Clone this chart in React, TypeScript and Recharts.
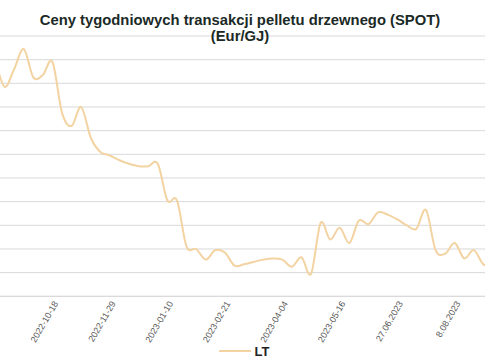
import { CartesianGrid, Legend, Line, LineChart, XAxis, YAxis } from 'recharts'

// weekly SPOT quotes, labels as they appear in the source sheet
const weeks = [
  '2022-09-06', '2022-09-13', '2022-09-20', '2022-09-27', '2022-10-04', '2022-10-11',
  '2022-10-18', '2022-10-25', '2022-11-01', '2022-11-08', '2022-11-15', '2022-11-22',
  '2022-11-29', '2022-12-06', '2022-12-13', '2022-12-20', '2022-12-27', '2023-01-03',
  '2023-01-10', '2023-01-17', '2023-01-24', '2023-01-31', '2023-02-07', '2023-02-14',
  '2023-02-21', '2023-02-28', '2023-03-07', '2023-03-14', '2023-03-21', '2023-03-28',
  '2023-04-04', '2023-04-11', '2023-04-18', '2023-04-25', '2023-05-02', '2023-05-09',
  '2023-05-16', '2023-05-23', '2023-05-30', '6.06.2023', '13.06.2023', '20.06.2023',
  '27.06.2023', '4.07.2023', '11.07.2023', '18.07.2023', '25.07.2023', '1.08.2023',
  '8.08.2023', '15.08.2023', '22.08.2023', '29.08.2023', '5.09.2023',
]

const lt = [
  28.0, 25.7, 27.2, 28.9, 26.5, 26.7, 27.8, 23.5, 22.4, 24.0, 21.4, 20.2,
  19.9, 19.5, 19.2, 19.0, 19.0, 19.2, 16.1, 16.1, 12.2, 12.0, 11.1, 11.9,
  11.7, 10.6, 10.7, 10.9, 11.1, 11.2, 11.1, 10.5, 11.3, 9.9, 14.2, 12.8,
  13.8, 12.5, 14.4, 14.1, 15.1, 14.9, 14.5, 14.0, 13.7, 15.3, 11.9, 11.6,
  12.5, 11.2, 11.9, 10.7, 10.6,
]

const shownWeeks = [
  '2022-10-18', '2022-11-29', '2023-01-10', '2023-02-21',
  '2023-04-04', '2023-05-16', '27.06.2023', '8.08.2023',
]

const yTicks = [8, 10, 12, 14, 16, 18, 20, 22, 24, 26, 28, 30]

const data = weeks.map((week, i) => ({ week, LT: lt[i] }))

// Excel-style smoothed line (bezier through every point, control arms = 1/6 of neighbour span)
const excelSmooth = (context: any) => {
  let pts: [number, number][] = []
  return {
    areaStart() {},
    areaEnd() {},
    lineStart() {
      pts = []
    },
    lineEnd() {
      const n = pts.length
      if (!n) return
      context.moveTo(pts[0][0], pts[0][1])
      for (let i = 0; i < n - 1; i++) {
        const p0 = pts[Math.max(i - 1, 0)]
        const p1 = pts[i]
        const p2 = pts[i + 1]
        const p3 = pts[Math.min(i + 2, n - 1)]
        context.bezierCurveTo(
          p1[0] + (p2[0] - p0[0]) / 6,
          p1[1] + (p2[1] - p0[1]) / 6,
          p2[0] - (p3[0] - p1[0]) / 6,
          p2[1] - (p3[1] - p1[1]) / 6,
          p2[0],
          p2[1],
        )
      }
    },
    point(x: number, y: number) {
      pts.push([+x, +y])
    },
  }
}

function DateTick({ x, y, payload }: any) {
  return (
    <text
      transform={`translate(${x + 6},${y + 7}) rotate(-60)`}
      textAnchor="end"
      fontSize={9}
      fill="#595959"
    >
      {payload.value}
    </text>
  )
}

function LegendBox() {
  return (
    <div style={{ display: 'flex', justifyContent: 'center', alignItems: 'center', height: 18 }}>
      <svg width={32} height={4} style={{ marginRight: 4 }}>
        <line x1={0} y1={2} x2={32} y2={2} stroke="#f2d3a1" strokeWidth={2} />
      </svg>
      <span style={{ fontSize: 13, fontWeight: 700, color: '#222' }}>LT</span>
    </div>
  )
}

export default function App() {
  return (
    <div
      style={{
        position: 'absolute',
        left: 0,
        top: 0,
        width: 485,
        height: 360,
        overflow: 'hidden',
        background: '#fff',
        fontFamily: '"Liberation Sans", Arial, sans-serif',
      }}
    >
      <div style={{ position: 'absolute', left: -5, top: 0 }}>
        <LineChart width={498} height={360} data={data} margin={{ top: 36, right: 0, bottom: 0, left: 0 }}>
          <CartesianGrid stroke="#d9d9d9" vertical={false} />
          <XAxis
            dataKey="week"
            ticks={shownWeeks}
            interval={0}
            tick={<DateTick />}
            tickLine={false}
            tickSize={0}
            tickMargin={0}
            axisLine={{ stroke: '#d9d9d9' }}
            height={45.7}
          />
          <YAxis hide domain={[8, 30]} ticks={yTicks} />
          <Legend verticalAlign="bottom" height={18} content={<LegendBox />} />
          <Line
            type={excelSmooth as any}
            dataKey="LT"
            stroke="#f2d3a1"
            strokeWidth={2}
            dot={false}
            isAnimationActive={false}
          />
        </LineChart>
      </div>
      <div
        style={{
          position: 'absolute',
          left: 0,
          top: 11.5,
          width: 480,
          textAlign: 'center',
          fontSize: 14.8,
          lineHeight: '16.7px',
          fontWeight: 700,
          color: '#1b2a26',
        }}
      >
        Ceny tygodniowych transakcji pelletu drzewnego (SPOT)
        <br />
        (Eur/GJ)
      </div>
    </div>
  )
}
